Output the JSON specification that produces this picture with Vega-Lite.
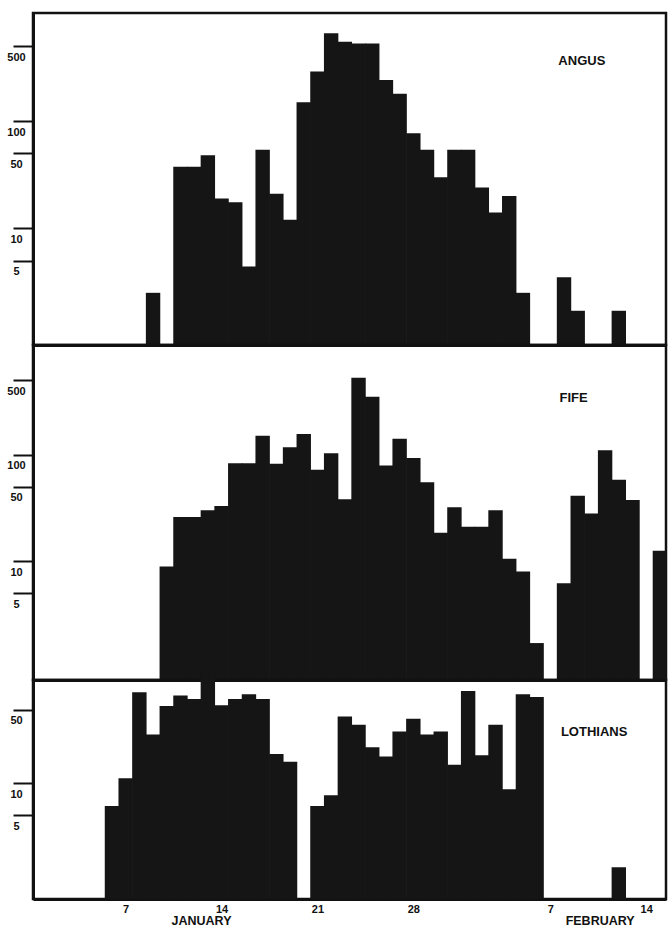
{
  "$schema": "https://vega.github.io/schema/vega-lite/v6.json",
  "background": "white",
  "padding": {"left": 0, "top": 11, "right": 0, "bottom": 0},
  "spacing": 0,
  "bounds": "flush",
  "config": {
    "view": {"stroke": "#111111", "strokeWidth": 2.5},
    "axis": {
      "domainColor": "#111111",
      "domainWidth": 3,
      "tickColor": "#111111",
      "tickWidth": 2,
      "labelFont": "Liberation Sans",
      "labelFontWeight": "bold",
      "labelFontSize": 11,
      "labelColor": "#111111",
      "grid": false,
      "title": null
    }
  },
  "datasets": {
    "angus": [
      {"day": 9, "cases": 2.5}, {"day": 11, "cases": 37.5}, {"day": 12, "cases": 37.5},
      {"day": 13, "cases": 48}, {"day": 14, "cases": 19}, {"day": 15, "cases": 17.5},
      {"day": 16, "cases": 4.4}, {"day": 17, "cases": 54}, {"day": 18, "cases": 21},
      {"day": 19, "cases": 12}, {"day": 20, "cases": 150}, {"day": 21, "cases": 290},
      {"day": 22, "cases": 660}, {"day": 23, "cases": 550}, {"day": 24, "cases": 530},
      {"day": 25, "cases": 530}, {"day": 26, "cases": 242}, {"day": 27, "cases": 180},
      {"day": 28, "cases": 77}, {"day": 29, "cases": 54}, {"day": 30, "cases": 30},
      {"day": 31, "cases": 54}, {"day": 32, "cases": 54}, {"day": 33, "cases": 24},
      {"day": 34, "cases": 14}, {"day": 35, "cases": 20}, {"day": 36, "cases": 2.5},
      {"day": 39, "cases": 3.5}, {"day": 40, "cases": 1.7}, {"day": 43, "cases": 1.7}
    ],
    "fife": [
      {"day": 10, "cases": 8.9}, {"day": 11, "cases": 26}, {"day": 12, "cases": 26},
      {"day": 13, "cases": 30}, {"day": 14, "cases": 33}, {"day": 15, "cases": 83},
      {"day": 16, "cases": 83}, {"day": 17, "cases": 150}, {"day": 18, "cases": 82},
      {"day": 19, "cases": 117}, {"day": 20, "cases": 156}, {"day": 21, "cases": 72},
      {"day": 22, "cases": 103}, {"day": 23, "cases": 38}, {"day": 24, "cases": 527},
      {"day": 25, "cases": 350}, {"day": 26, "cases": 79}, {"day": 27, "cases": 141},
      {"day": 28, "cases": 93}, {"day": 29, "cases": 55}, {"day": 30, "cases": 18.5},
      {"day": 31, "cases": 32}, {"day": 32, "cases": 21}, {"day": 33, "cases": 21},
      {"day": 34, "cases": 30}, {"day": 35, "cases": 10.5}, {"day": 36, "cases": 8},
      {"day": 37, "cases": 1.7}, {"day": 39, "cases": 6.2}, {"day": 40, "cases": 41},
      {"day": 41, "cases": 28}, {"day": 42, "cases": 110}, {"day": 43, "cases": 58},
      {"day": 44, "cases": 37.5}, {"day": 46, "cases": 12.5}
    ],
    "lothians": [
      {"day": 6, "cases": 6.1}, {"day": 7, "cases": 11.2}, {"day": 8, "cases": 73},
      {"day": 9, "cases": 29}, {"day": 10, "cases": 54}, {"day": 11, "cases": 68},
      {"day": 12, "cases": 63}, {"day": 13, "cases": 107}, {"day": 14, "cases": 55},
      {"day": 15, "cases": 63}, {"day": 16, "cases": 70}, {"day": 17, "cases": 63},
      {"day": 18, "cases": 19}, {"day": 19, "cases": 16}, {"day": 21, "cases": 6.1},
      {"day": 22, "cases": 7.7}, {"day": 23, "cases": 43}, {"day": 24, "cases": 36},
      {"day": 25, "cases": 22}, {"day": 26, "cases": 18}, {"day": 27, "cases": 31},
      {"day": 28, "cases": 41}, {"day": 29, "cases": 29}, {"day": 30, "cases": 31},
      {"day": 31, "cases": 15}, {"day": 32, "cases": 75}, {"day": 33, "cases": 18.5},
      {"day": 34, "cases": 36}, {"day": 35, "cases": 8.8}, {"day": 36, "cases": 70},
      {"day": 37, "cases": 66}, {"day": 43, "cases": 1.6}
    ]
  },
  "vconcat": [
    {
      "width": 633,
      "height": 332,
      "layer": [
        {
          "data": {"name": "angus"},
          "mark": {"type": "bar", "width": 14.4, "clip": true, "color": "#151515"},
          "encoding": {
            "x": {"field": "day", "type": "quantitative",
                  "scale": {"domain": [0.6, 46.08], "nice": false, "zero": false},
                  "axis": {"labels": false, "ticks": false, "domain": true}},
            "y": {"field": "cases", "type": "quantitative",
                  "scale": {"type": "log", "domain": [0.815, 1019], "nice": false},
                  "axis": {"values": [5, 10, 50, 100, 500], "format": "d", "tickSize": 20,
                           "labelAlign": "center", "labelBaseline": "top", "labelPadding": -3,
                           "labelOffset": 5, "minExtent": 31, "maxExtent": 31}},
            "y2": {"datum": 0.815}
          }
        },
        {
          "data": {"values": [{"name": "ANGUS"}]},
          "mark": {"type": "text", "font": "Liberation Sans", "fontSize": 13, "fontWeight": "bold", "color": "#111111", "align": "center", "baseline": "middle"},
          "encoding": {
            "x": {"datum": 40.3, "type": "quantitative"},
            "y": {"datum": 360, "type": "quantitative"},
            "text": {"field": "name"}
          }
        }
      ]
    },
    {
      "width": 633,
      "height": 335,
      "layer": [
        {
          "data": {"name": "fife"},
          "mark": {"type": "bar", "width": 14.4, "clip": true, "color": "#151515"},
          "encoding": {
            "x": {"field": "day", "type": "quantitative",
                  "scale": {"domain": [0.6, 46.08], "nice": false, "zero": false},
                  "axis": {"labels": false, "ticks": false, "domain": true}},
            "y": {"field": "cases", "type": "quantitative",
                  "scale": {"type": "log", "domain": [0.765, 1069], "nice": false},
                  "axis": {"values": [5, 10, 50, 100, 500], "format": "d", "tickSize": 20,
                           "labelAlign": "center", "labelBaseline": "top", "labelPadding": -3,
                           "labelOffset": 5, "minExtent": 31, "maxExtent": 31}},
            "y2": {"datum": 0.765}
          }
        },
        {
          "data": {"values": [{"name": "FIFE"}]},
          "mark": {"type": "text", "font": "Liberation Sans", "fontSize": 13, "fontWeight": "bold", "color": "#111111", "align": "center", "baseline": "middle"},
          "encoding": {
            "x": {"datum": 39.7, "type": "quantitative"},
            "y": {"datum": 340, "type": "quantitative"},
            "text": {"field": "name"}
          }
        }
      ]
    },
    {
      "width": 633,
      "height": 219,
      "layer": [
        {
          "data": {"name": "lothians"},
          "mark": {"type": "bar", "width": 14.4, "clip": false, "color": "#151515"},
          "encoding": {
            "x": {"field": "day", "type": "quantitative",
                  "scale": {"domain": [0.6, 46.08], "nice": false, "zero": false},
                  "axis": {"values": [7, 12.5, 14, 21, 28, 38, 41.6, 45], "ticks": false, "domain": true,
                           "labelOverlap": false, "labelFlush": false, "labelBound": false,
                           "labelExpr": "datum.value == 12.5 ? 'JANUARY' : (datum.value > 41 && datum.value < 42) ? 'FEBRUARY' : datum.value > 31 ? format(datum.value - 31, 'd') : format(datum.value, 'd')",
                           "labelPadding": {"condition": {"test": "datum.value == 12.5 || (datum.value > 41 && datum.value < 42)", "value": 15}, "value": 4},
                           "labelFontSize": {"condition": {"test": "datum.value == 12.5 || (datum.value > 41 && datum.value < 42)", "value": 12.5}, "value": 11}}},
            "y": {"field": "cases", "type": "quantitative",
                  "scale": {"type": "log", "domain": [0.8, 95.5], "nice": false},
                  "axis": {"values": [5, 10, 50], "format": "d", "tickSize": 20,
                           "labelAlign": "center", "labelBaseline": "top", "labelPadding": -3,
                           "labelOffset": 5, "minExtent": 31, "maxExtent": 31}},
            "y2": {"datum": 0.8}
          }
        },
        {
          "data": {"values": [{"name": "LOTHIANS"}]},
          "mark": {"type": "text", "font": "Liberation Sans", "fontSize": 13, "fontWeight": "bold", "color": "#111111", "align": "center", "baseline": "middle"},
          "encoding": {
            "x": {"datum": 41.2, "type": "quantitative"},
            "y": {"datum": 30.7, "type": "quantitative"},
            "text": {"field": "name"}
          }
        }
      ]
    }
  ]
}
